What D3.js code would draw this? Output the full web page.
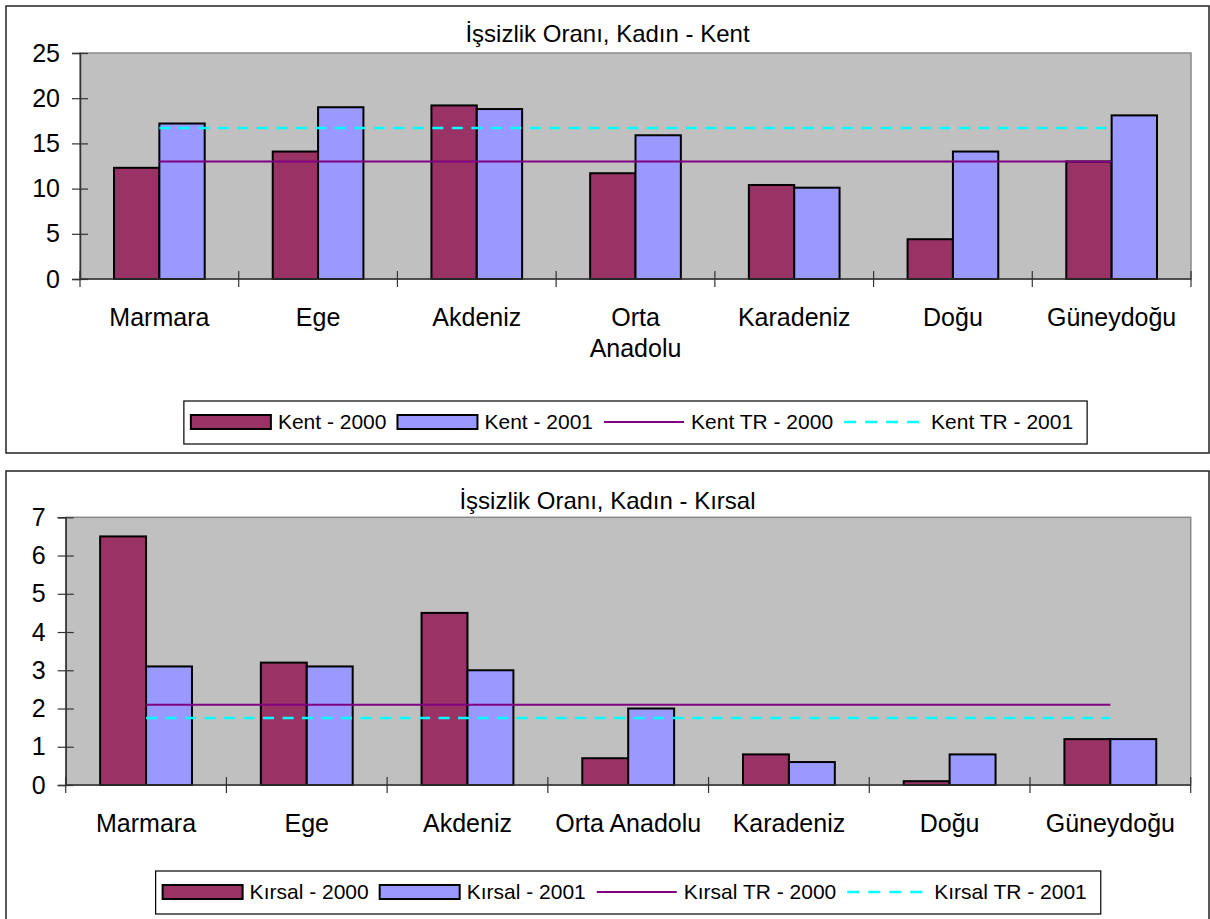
<!DOCTYPE html>
<html>
<head>
<meta charset="utf-8">
<script src="https://cdn.jsdelivr.net/npm/d3@7"></script>
<style>
  body { margin: 0; background: #fff; }
  svg { display: block; }
  text { font-family: "Liberation Sans", Arial, sans-serif; fill: #000; }
</style>
</head>
<body>
<svg id="chart" width="1210" height="919"></svg>
<script>
// Regions (x-axis categories)
const regions = ["Marmara", "Ege", "Akdeniz", "Orta Anadolu", "Karadeniz", "Doğu", "Güneydoğu"];

// Urban female unemployment rate (%)
const kent2000 = [12.3, 14.1, 19.2, 11.7, 10.4, 4.4, 13.0];
const kent2001 = [17.2, 19.0, 18.8, 15.9, 10.1, 14.1, 18.1];
const kentTR2000 = 13.0;
const kentTR2001 = 16.7;
const kentTicks = [0, 5, 10, 15, 20, 25];

// Rural female unemployment rate (%)
const kirsal2000 = [6.5, 3.2, 4.5, 0.7, 0.8, 0.1, 1.2];
const kirsal2001 = [3.1, 3.1, 3.0, 2.0, 0.6, 0.8, 1.2];
const kirsalTR2000 = 2.1;
const kirsalTR2001 = 1.75;
const kirsalTicks = [0, 1, 2, 3, 4, 5, 6, 7];

const COL_2000 = "#993366", COL_2001 = "#9999FF", COL_TR0 = "#800080", COL_TR1 = "#00FFFF";

const svg = d3.select("#chart");

function drawPanel(cfg) {
  const g = svg.append("g");

  // outer frame
  g.append("rect").attr("x", cfg.frame[0]).attr("y", cfg.frame[1])
    .attr("width", cfg.frame[2] - cfg.frame[0]).attr("height", cfg.frame[3] - cfg.frame[1])
    .attr("fill", "#fff").attr("stroke", "#222").attr("stroke-width", 1.5);

  const x0 = d3.scaleBand().domain(regions).range([cfg.left, cfg.right]).padding(0);
  const x1 = d3.scaleBand().domain([0, 1]).range([0, x0.bandwidth()]).paddingInner(0).paddingOuter(0.75);
  const y = d3.scaleLinear().domain([0, d3.max(cfg.ticks)]).range([cfg.bottom, cfg.top]);

  // plot area
  g.append("rect").attr("x", cfg.left).attr("y", cfg.top)
    .attr("width", cfg.right - cfg.left).attr("height", cfg.bottom - cfg.top)
    .attr("fill", "#C0C0C0").attr("stroke", "#8a8a8a").attr("stroke-width", 1.5);

  // bars
  const series = [cfg.s2000, cfg.s2001];
  const colors = [COL_2000, COL_2001];
  regions.forEach((r, i) => {
    series.forEach((s, k) => {
      g.append("rect")
        .attr("x", x0(r) + x1(k)).attr("y", y(s[i]))
        .attr("width", x1.bandwidth()).attr("height", y(0) - y(s[i]))
        .attr("fill", colors[k]).attr("stroke", "#000").attr("stroke-width", 2);
    });
  });

  // national average lines
  const line = d3.line().x(d => x0(d.r) + x0.bandwidth() / 2).y(d => y(d.v));
  g.append("path").datum(regions.map(r => ({ r, v: cfg.tr2000 })))
    .attr("d", line).attr("fill", "none").attr("stroke", COL_TR0).attr("stroke-width", 2);
  g.append("path").datum(regions.map(r => ({ r, v: cfg.tr2001 })))
    .attr("d", line).attr("fill", "none").attr("stroke", COL_TR1).attr("stroke-width", 2.5)
    .attr("stroke-dasharray", "11,8.5");

  // y axis
  const ya = g.append("g").attr("transform", `translate(${cfg.left},0)`)
    .call(d3.axisLeft(y).tickValues(cfg.ticks).tickSize(8).tickPadding(12).tickFormat(d3.format("d")));
  ya.select(".domain").attr("stroke", "#333").attr("stroke-width", 1.5);
  ya.selectAll(".tick line").attr("x1", -8).attr("x2", 8).attr("stroke", "#333").attr("stroke-width", 1.2);
  ya.selectAll(".tick text").style("font-size", "25px").attr("fill", "#000");

  // x axis: baseline, boundary ticks, labels
  g.append("line").attr("x1", cfg.left).attr("x2", cfg.right).attr("y1", cfg.bottom).attr("y2", cfg.bottom)
    .attr("stroke", "#333").attr("stroke-width", 1.5);
  const bounds = regions.map(r => x0(r)).concat([cfg.right]);
  g.selectAll(".xt").data(bounds).enter().append("line")
    .attr("x1", d => d).attr("x2", d => d).attr("y1", cfg.bottom - 8).attr("y2", cfg.bottom + 8)
    .attr("stroke", "#333").attr("stroke-width", 1.2);
  regions.forEach(r => {
    const lines = cfg.labelLines(r);
    const t = g.append("text").attr("x", x0(r) + x0.bandwidth() / 2).attr("y", cfg.bottom + 47)
      .attr("text-anchor", "middle").style("font-size", "25px");
    lines.forEach((ln, j) => t.append("tspan").attr("x", x0(r) + x0.bandwidth() / 2)
      .attr("dy", j === 0 ? 0 : 31).text(ln));
  });

  // title
  g.append("text").attr("x", (cfg.frame[0] + cfg.frame[2]) / 2).attr("y", cfg.titleY)
    .attr("text-anchor", "middle").style("font-size", "24px").text(cfg.title);

  // legend box + entries
  const box = g.append("rect").attr("fill", "#fff").attr("stroke", "#000").attr("stroke-width", 1.2);
  const lg = g.append("g");
  const items = cfg.legend;
  let cx = 0;
  const swW = 80;
  items.forEach((it, i) => {
    const item = lg.append("g").attr("transform", `translate(${cx},0)`);
    if (it.type === "bar") {
      item.append("rect").attr("x", 0).attr("y", -7).attr("width", swW).attr("height", 14)
        .attr("fill", it.color).attr("stroke", "#000").attr("stroke-width", 2);
    } else {
      item.append("line").attr("x1", 0).attr("x2", swW).attr("y1", 0).attr("y2", 0)
        .attr("stroke", it.color).attr("stroke-width", it.dash ? 2.5 : 2)
        .attr("stroke-dasharray", it.dash ? "12,9" : null);
    }
    const t = item.append("text").attr("x", swW + 7).attr("y", 6.5).style("font-size", "21px").text(it.label);
    const w = t.node().getComputedTextLength();
    cx += swW + 7 + w + (i < items.length - 1 ? 11 : 0);
  });
  const padL = 7, padR = 14;
  const boxW = cx + padL + padR;
  const boxX = (cfg.left + cfg.right) / 2 - boxW / 2;
  lg.attr("transform", `translate(${boxX + padL},${cfg.legendY})`);
  box.attr("x", boxX).attr("y", cfg.legendY - 21).attr("width", boxW).attr("height", 43);
}

drawPanel({
  frame: [6, 6, 1209, 453],
  left: 80, right: 1191, top: 53, bottom: 279,
  ticks: kentTicks,
  s2000: kent2000, s2001: kent2001, tr2000: kentTR2000, tr2001: kentTR2001,
  title: "İşsizlik Oranı, Kadın - Kent", titleY: 42,
  labelLines: r => r === "Orta Anadolu" ? ["Orta", "Anadolu"] : [r],
  legendY: 422,
  legend: [
    { type: "bar", color: COL_2000, label: "Kent - 2000" },
    { type: "bar", color: COL_2001, label: "Kent - 2001" },
    { type: "line", color: COL_TR0, label: "Kent TR - 2000" },
    { type: "line", color: COL_TR1, dash: true, label: "Kent TR - 2001" }
  ]
});

drawPanel({
  frame: [6, 471, 1209, 930],
  left: 65.7, right: 1190.7, top: 517.3, bottom: 785,
  ticks: kirsalTicks,
  s2000: kirsal2000, s2001: kirsal2001, tr2000: kirsalTR2000, tr2001: kirsalTR2001,
  title: "İşsizlik Oranı, Kadın - Kırsal", titleY: 509,
  labelLines: r => [r],
  legendY: 892,
  legend: [
    { type: "bar", color: COL_2000, label: "Kırsal - 2000" },
    { type: "bar", color: COL_2001, label: "Kırsal - 2001" },
    { type: "line", color: COL_TR0, label: "Kırsal TR - 2000" },
    { type: "line", color: COL_TR1, dash: true, label: "Kırsal TR - 2001" }
  ]
});
</script>
</body>
</html>
